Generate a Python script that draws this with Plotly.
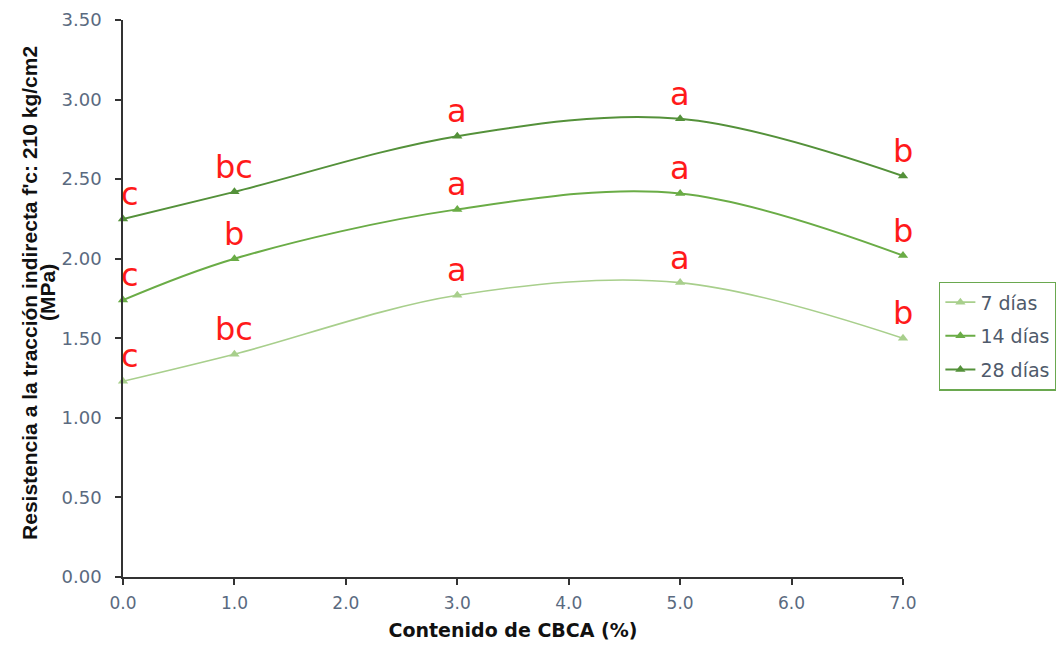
import plotly.graph_objects as go

# ---- data ----
cbca = [0, 1, 3, 5, 7]
series_names = ["7 días", "14 días", "28 días"]
dias_7 = [1.23, 1.40, 1.77, 1.85, 1.50]
dias_14 = [1.74, 2.00, 2.31, 2.41, 2.02]
dias_28 = [2.25, 2.42, 2.77, 2.88, 2.52]
labels_7 = ["c", "bc", "a", "a", "b"]
labels_14 = ["c", "b", "a", "a", "b"]
labels_28 = ["c", "bc", "a", "a", "b"]
colors = ["#a8cf8c", "#6aac46", "#54913a"]
widths = [1.6, 2.0, 2.0]

y_ticks = [0, 0.5, 1.0, 1.5, 2.0, 2.5, 3.0, 3.5]
x_ticks = [0, 1, 2, 3, 4, 5, 6, 7]

y_title_1 = "Resistencia a la tracción indirecta f'c: 210 kg/cm2"
y_title_2 = "(MPa)"
x_title = "Contenido de CBCA (%)"

fig = go.Figure()
all_vals = [dias_7, dias_14, dias_28]
all_labels = [labels_7, labels_14, labels_28]
for i, (name, vals) in enumerate(zip(series_names, all_vals)):
    fig.add_trace(go.Scatter(
        x=cbca, y=vals, name=name, mode="lines+markers",
        line=dict(color=colors[i], width=widths[i], shape="spline", smoothing=1.0),
        marker=dict(symbol="triangle-up", size=9, color=colors[i]),
        cliponaxis=False, legendgroup=name,
    ))

annotations = []
for vals, labs in zip(all_vals, all_labels):
    for x, y, t in zip(cbca, vals, labs):
        annotations.append(dict(
            x=x, y=y, text=t, showarrow=False, xref="x", yref="y",
            yanchor="middle", xanchor="center", yshift=25,
            xshift=7 if x == 0 else 0,
            font=dict(family="DejaVu Sans", size=32, color="#ff1a1a"),
        ))

# y-axis title as two rotated lines
for txt, xs in [(y_title_1, -93), (y_title_2, -75)]:
    annotations.append(dict(
        x=0, y=0.51, xref="paper", yref="paper", text="<b>" + txt + "</b>",
        showarrow=False, textangle=-90, xanchor="center", yanchor="middle",
        xshift=xs,
        font=dict(family="Liberation Sans", size=21, color="#111111"),
    ))

fig.update_layout(
    width=1064, height=648,
    margin=dict(l=115, r=169, t=12, b=79, autoexpand=False),
    paper_bgcolor="white", plot_bgcolor="white",
    annotations=annotations,
    showlegend=True,
    legend=dict(
        x=1.046, xanchor="left", y=0.53, yanchor="top",
        bordercolor="#6aa84f", borderwidth=1.5, bgcolor="white",
        font=dict(family="DejaVu Sans", size=19, color="#4f5a6b"),
        tracegroupgap=6, traceorder="grouped",
    ),
    xaxis=dict(
        range=[0, 7], tickvals=x_ticks, tickformat=".1f",
        showgrid=False, zeroline=False, automargin=False,
        showline=True, linecolor="#333333", linewidth=1.5,
        ticks="outside", ticklen=6, tickcolor="#333333", tickwidth=1.5,
        ticklabelstandoff=4,
        tickfont=dict(family="DejaVu Sans", size=17, color="#5a6a80"),
        title=dict(text="<b>" + x_title + "</b>",
                   font=dict(family="DejaVu Sans", size=19, color="#111111"),
                   standoff=12),
    ),
    yaxis=dict(
        range=[0, 3.5], tickvals=y_ticks, tickformat=".2f",
        showgrid=False, zeroline=False, automargin=False,
        showline=True, linecolor="#333333", linewidth=1.5,
        ticks="outside", ticklen=6, tickcolor="#333333", tickwidth=1.5,
        ticklabelstandoff=10,
        tickfont=dict(family="DejaVu Sans", size=18, color="#5a6a80"),
    ),
)

fig.write_html("out.html")
